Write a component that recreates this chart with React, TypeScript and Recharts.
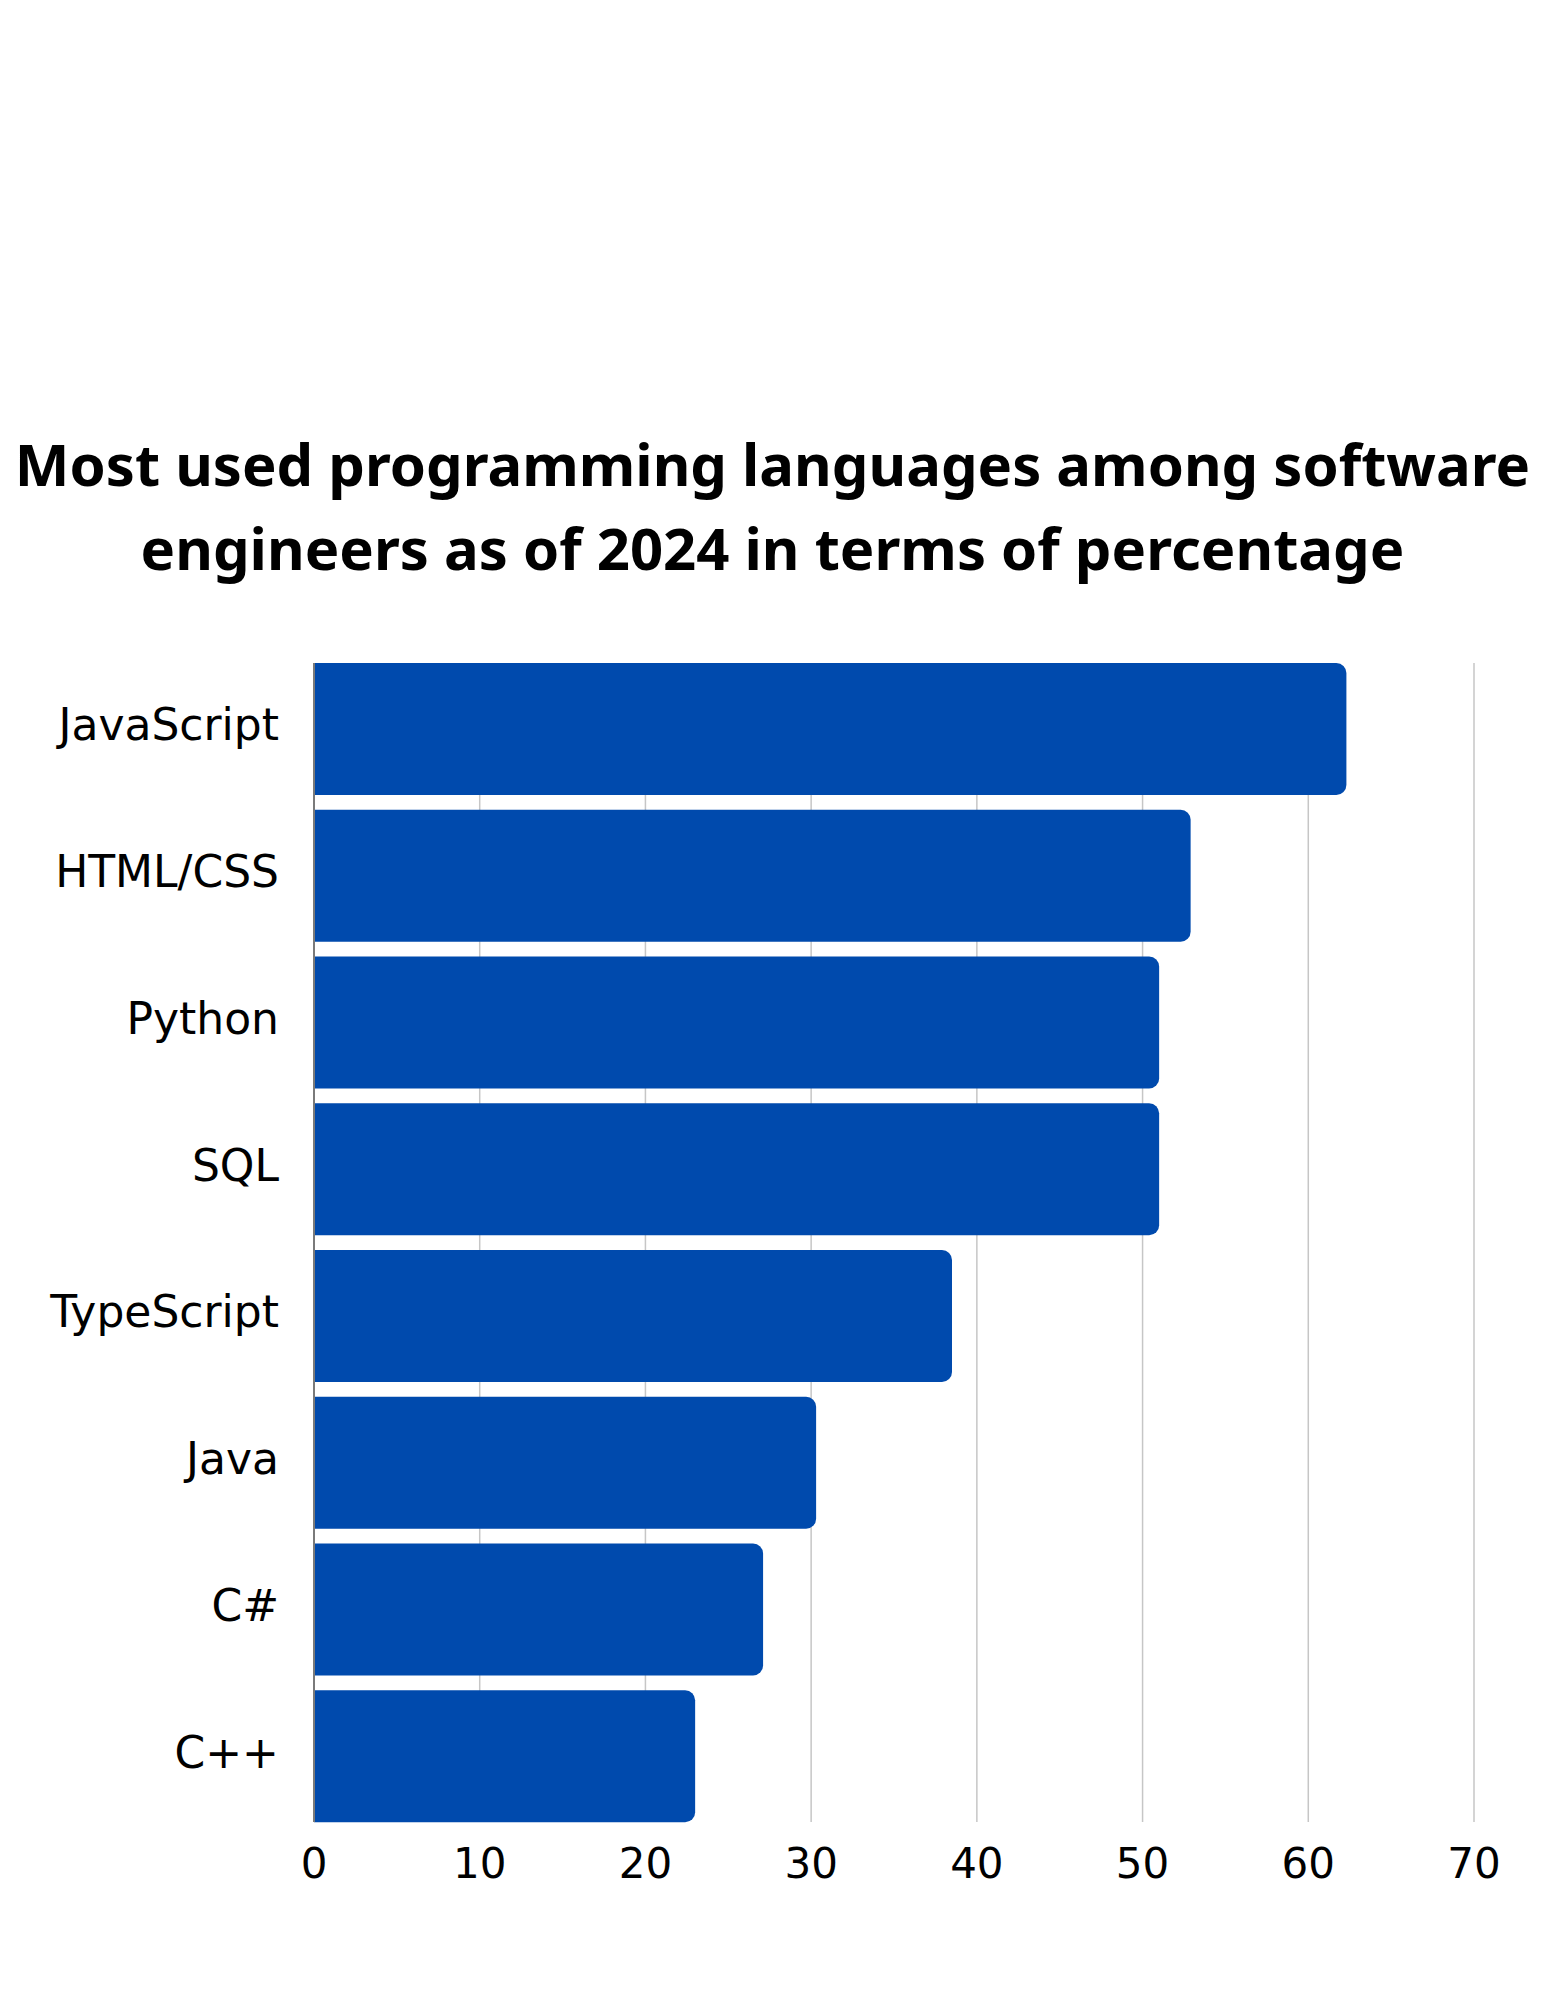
import React from "react";
import { BarChart, Bar, XAxis, YAxis, CartesianGrid } from "recharts";

const languages = ["JavaScript", "HTML/CSS", "Python", "SQL", "TypeScript", "Java", "C#", "C++"];
const percentages = [62.3, 52.9, 51, 51, 38.5, 30.3, 27.1, 23];
const xTicks = [0, 10, 20, 30, 40, 50, 60, 70];
const titleLines = [
  "Most used programming languages among software",
  "engineers as of 2024 in terms of percentage",
];

const data = languages.map((name, i) => ({ name, value: percentages[i] }));

const TITLE_FONT = "'Noto Sans', 'Open Sans', sans-serif";
const FONT = "'DejaVu Sans', 'Noto Sans', sans-serif";

export default function App() {
  return (
    <div style={{ position: "absolute", left: 0, top: 0, width: 1545, height: 2000, background: "#fff" }}>
      <div
        style={{
          position: "absolute",
          left: 0,
          top: 422,
          width: 1545,
          textAlign: "center",
          fontFamily: TITLE_FONT,
          fontWeight: 700,
          fontSize: 58,
          lineHeight: "84px",
          color: "#000",
          whiteSpace: "nowrap",
        }}
      >
        {titleLines.map((t) => (
          <div key={t}>{t}</div>
        ))}
      </div>
      <div style={{ position: "absolute", left: 0, top: 0 }}>
        <BarChart
          width={1545}
          height={2000}
          data={data}
          layout="vertical"
          margin={{ top: 663, right: 71, left: 0, bottom: 118 }}
          barCategoryGap={7.5}
        >
          <CartesianGrid horizontal={false} vertical={true} stroke="#c6c6c6" strokeWidth={1.5} />
          <XAxis
            type="number"
            domain={[0, 70]}
            ticks={xTicks}
            axisLine={false}
            tickLine={false}
            tickSize={0}
            tickMargin={26}
            height={60}
            tick={{ fill: "#000", fontSize: 42, fontFamily: FONT }}
          />
          <YAxis
            type="category"
            dataKey="name"
            width={314}
            padding={{ top: -7.5, bottom: -7.5 }}
            axisLine={{ stroke: "#7a7a7a", strokeWidth: 2 }}
            tickLine={false}
            tickSize={0}
            tickMargin={35}
            tick={{ fill: "#000", fontSize: 44, fontFamily: FONT, dy: -4 }}
          />
          <Bar dataKey="value" fill="#004AAD" radius={[0, 10, 10, 0]} isAnimationActive={false} />
        </BarChart>
      </div>
    </div>
  );
}
